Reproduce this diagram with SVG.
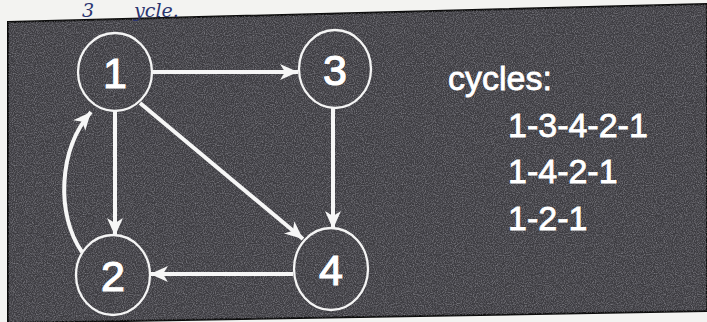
<svg xmlns="http://www.w3.org/2000/svg" width="707" height="322" viewBox="0 0 707 322">
<style>
.node ellipse{fill:none;stroke:#f4f4f4;stroke-width:2.3}
.node text{fill:#ffffff;font-family:"Liberation Sans",Arial,sans-serif;font-size:43px;text-anchor:middle;stroke:#ffffff;stroke-width:1.2}
.edge{fill:none;stroke:#f6f6f6;stroke-width:4;marker-end:url(#arr)}
.txt{fill:#ffffff;font-family:"Liberation Sans",Arial,sans-serif;font-size:34px;stroke:#ffffff;stroke-width:0.8}
.hand{fill:#2b3570;font-family:"DejaVu Serif",serif;font-style:italic;font-size:19px}
</style>
<defs>
<marker id="arr" markerUnits="userSpaceOnUse" markerWidth="20" markerHeight="18" refX="18" refY="9" orient="auto">
<path d="M0,1 L18,9 L0,17 L5,9 z" fill="#f6f6f6"/>
</marker>
<filter id="noise" x="0" y="0" width="100%" height="100%">
<feTurbulence type="fractalNoise" baseFrequency="0.9" numOctaves="2" seed="3" result="t"/>
<feColorMatrix type="matrix" values="0 0 0 0 0.55  0 0 0 0 0.55  0 0 0 0 0.6  0 0 0 1.2 -0.45"/>
</filter>
<clipPath id="boxclip"><polygon points="8,22 707,4 707,311 8,323"/></clipPath>
</defs>
<rect width="707" height="322" fill="#f3f3f1"/>
<g id="board">
<polygon points="8,22 707,4 707,311 8,323" fill="#3d3c41" stroke="#0c0c0c" stroke-width="2"/>
<rect x="0" y="0" width="707" height="322" filter="url(#noise)" clip-path="url(#boxclip)" opacity="0.75"/>
</g>
<g id="handwriting">
<text class="hand" x="82" y="17">3</text>
<text class="hand" x="134" y="17">ycle.</text>
</g>
<g id="connectors">
<line class="edge" x1="153" y1="72" x2="298" y2="72"/>
<line class="edge" x1="333" y1="108" x2="333" y2="229"/>
<line class="edge" x1="115" y1="111" x2="115" y2="236"/>
<line class="edge" x1="140" y1="103" x2="303" y2="239"/>
<line class="edge" x1="293" y1="274" x2="150" y2="274"/>
<path class="edge" d="M82,252 C56,215 58,150 91,112"/>
</g>
<g id="node1" class="node"><ellipse cx="115" cy="72" rx="37" ry="39"/><text x="115" y="88">1</text></g>
<g id="node3" class="node"><ellipse cx="335" cy="69" rx="36" ry="39"/><text x="335" y="85">3</text></g>
<g id="node2" class="node"><ellipse cx="113" cy="275" rx="37" ry="40"/><text x="113" y="291">2</text></g>
<g id="node4" class="node"><ellipse cx="331" cy="269" rx="37" ry="41"/><text x="331" y="285">4</text></g>
<g id="cycles">
<text class="txt" x="448" y="90">cycles:</text>
<text class="txt" x="508" y="137">1-3-4-2-1</text>
<text class="txt" x="508" y="183">1-4-2-1</text>
<text class="txt" x="508" y="230">1-2-1</text>
</g>
</svg>
